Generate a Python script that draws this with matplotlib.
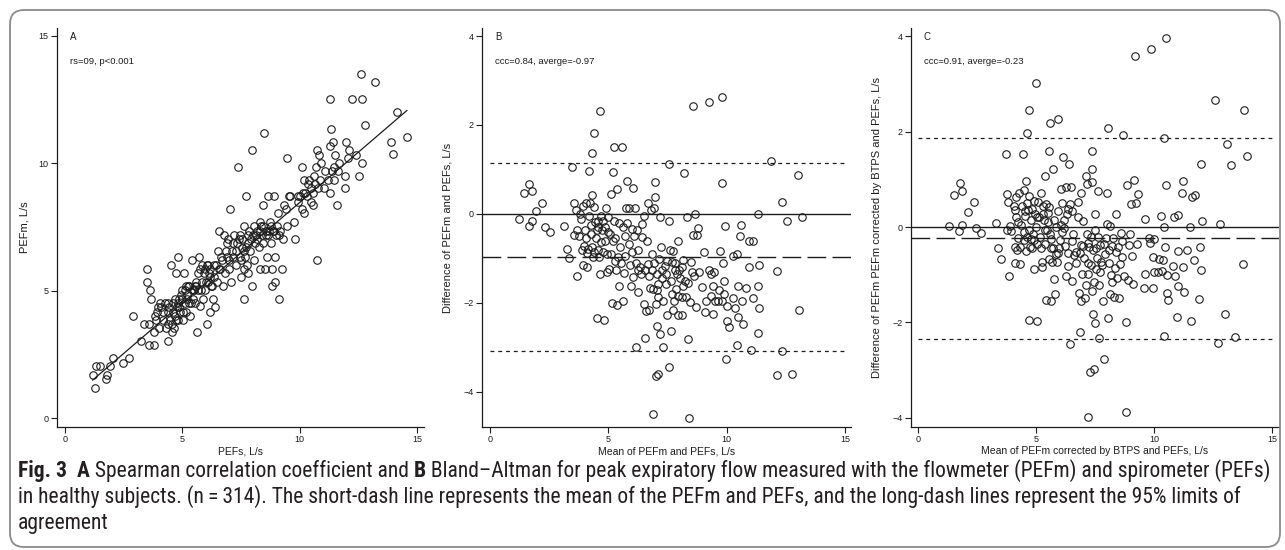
import matplotlib
matplotlib.use("Agg")
import matplotlib.pyplot as plt
from matplotlib import font_manager
from matplotlib.patches import FancyBboxPatch
from matplotlib.transforms import IdentityTransform
import numpy as np

# ---------------- data ----------------
panel_a_points = [
    (1.18,1.70),(1.28,1.18),(1.31,2.03),(1.49,2.03),(1.75,1.53),(1.81,1.70),(1.92,2.03),(2.06,2.35),(2.46,2.18),(2.74,2.35),
    (2.91,4.01),(3.26,3.02),(3.37,3.69),(3.58,3.69),(3.48,5.85),(3.48,5.36),(3.63,5.01),(3.67,4.68),(3.60,2.85),(3.81,2.85),
    (3.80,3.37),(3.84,4.01),(3.88,3.86),(3.94,4.18),(4.02,3.53),(4.05,4.51),(4.17,3.86),(4.19,4.18),(4.29,3.53),(4.37,3.02),
    (4.38,4.51),(4.41,4.18),(4.48,3.86),(4.51,6.02),(4.55,3.36),(4.62,4.51),(4.65,3.53),(4.69,4.01),(4.72,5.69),(4.76,4.35),
    (4.81,6.34),(4.83,3.86),(4.86,4.67),(4.91,4.18),(4.93,4.84),(4.98,5.01),(5.02,4.18),(5.08,5.69),(5.12,4.51),(5.16,4.18),
    (5.22,4.84),(5.26,5.19),(5.33,4.01),(5.40,6.19),(5.36,4.51),(5.47,5.01),(5.55,4.51),(5.64,3.36),(5.69,5.03),(5.73,6.34),
    (5.76,5.85),(5.83,5.36),(5.90,4.68),(5.93,5.69),(5.97,5.03),(6.04,6.02),(6.04,3.70),(6.11,5.36),(6.16,4.18),(6.19,5.85),
    (6.26,5.19),(6.30,4.68),(6.33,6.02),(6.40,4.35),(6.47,5.36),(6.54,6.54),(6.58,7.36),(6.61,5.85),(6.68,6.21),(6.73,5.19),
    (6.78,7.19),(6.83,5.69),(6.90,6.34),(6.94,7.02),(6.98,5.85),(7.04,8.20),(7.07,5.36),(7.15,6.34),(7.22,7.19),(7.29,6.02),
    (7.35,6.87),(7.39,9.87),(7.44,6.34),(7.49,5.53),(7.54,6.67),(7.61,7.52),(7.65,4.68),(7.68,6.34),(7.72,8.70),(7.78,6.87),
    (7.82,5.69),(7.89,6.54),(7.96,5.19),(7.96,10.53),(8.00,7.19),(8.06,6.21),(8.10,6.87),(8.18,7.36),(8.25,6.70),(8.29,7.68),
    (8.32,5.85),(8.39,7.19),(8.46,8.37),(8.50,11.18),(8.53,5.85),(8.57,7.36),(8.60,6.34),(8.67,8.70),(8.72,7.68),(8.77,6.87),
    (8.81,5.85),(8.81,5.19),(8.86,7.36),(8.92,8.70),(8.96,6.34),(8.96,5.36),(9.00,7.19),(9.07,8.04),(9.14,4.68),(9.17,7.36),
    (9.24,5.85),(9.28,7.02),(9.43,8.20),(9.46,7.52),(9.48,10.19),(9.53,8.70),(9.74,7.68),(9.81,7.02),(9.91,8.70),(10.02,8.70),
    (10.09,9.87),(10.09,8.20),(10.14,8.85),(10.17,9.35),(10.19,8.04),(10.31,8.70),(10.42,9.35),(10.48,8.50),(10.56,8.37),(10.59,8.85),
    (10.66,9.18),(10.71,9.87),(10.73,10.53),(10.73,6.19),(10.78,9.02),(10.81,10.33),(10.90,10.03),(11.04,9.02),(11.23,9.35),(11.28,10.69),
    (11.30,8.85),(11.30,12.51),(11.33,11.35),(11.37,9.68),(11.41,10.85),(11.45,9.35),(11.52,10.33),(11.59,8.37),(11.62,9.70),(11.66,10.03),
    (11.92,9.02),(11.94,9.52),(11.97,10.85),(12.04,10.19),(12.09,10.53),(12.23,12.51),(12.41,10.33),(12.55,9.52),(12.61,13.51),(12.65,12.51),
    (12.65,10.03),(12.77,11.51),(13.22,13.18),(13.91,10.85),(13.96,10.36),(14.15,12.02),(14.57,11.02),
    (3.98,4.35),(4.27,4.51),(4.41,3.70),(4.58,3.70),(4.73,3.86),(5.05,3.86),(5.19,4.68),(5.59,5.19),(5.76,4.38),(6.00,5.36),
    (6.22,5.19),(7.46,7.19),(7.86,7.36),(8.18,7.02),(8.46,7.52),(8.67,7.19),(7.61,5.85),(7.75,6.02),
    (5.30,5.19),(5.50,5.03),(5.60,5.36),(5.85,6.02),(6.10,6.02),(6.20,5.52),(6.45,6.02),(6.90,6.87),(7.10,6.54),(7.30,6.54),
    (7.55,7.02),(7.70,6.70),(8.05,7.52),(8.35,7.52),(8.80,7.52),(9.05,7.52),(9.60,8.70),(9.95,8.50),(10.35,9.18),(10.60,9.52),
    (4.10,4.35),(4.45,4.35),(4.60,4.18),(4.70,4.68),(4.80,4.51),(4.88,4.35),(5.00,4.68),(5.10,5.01),(5.15,5.19),(5.28,4.51),
    (5.45,4.68),(5.55,5.19),(5.65,5.69),(5.80,5.03),(5.95,5.85),(6.15,5.69),(6.35,5.52),(6.55,5.85),(6.65,6.34),(6.85,6.54),
    (7.00,6.21),(7.18,6.87),(7.40,7.02),(7.52,6.21),(7.62,6.54),(7.80,7.19),(7.92,7.02),(8.12,7.19),(8.30,7.36),(8.45,6.87),
    (8.55,7.19),(8.70,7.36),(8.90,7.36),(9.10,7.19),(9.35,8.37),(10.25,8.85),(10.50,9.02),(10.85,9.35),(11.10,9.68),(11.45,9.85),
]
fit_slope_a = 0.79
fit_intercept_a = 0.56

panel_b_points = [
    (1.23,-0.11),(1.44,0.48),(1.66,0.67),(1.76,0.51),(1.65,-0.28),(1.76,-0.16),(1.96,0.07),(2.21,0.25),(2.31,-0.30),(2.54,-0.40),
    (3.13,-0.27),(3.24,-0.79),(3.34,-1.00),(3.46,1.06),(3.54,0.25),(3.55,-0.47),(3.62,0.09),(3.66,-1.39),(3.69,-0.37),(3.76,-0.50),
    (3.80,0.00),(3.85,-0.11),(3.87,-0.81),(3.92,-1.15),(3.94,0.17),(3.99,-0.71),(4.01,-0.37),(4.04,0.25),(4.08,-0.88),(4.11,-1.20),
    (4.15,-0.79),(4.18,0.97),(4.20,-0.04),(4.23,0.25),(4.25,-0.24),(4.30,1.38),(4.30,0.43),(4.32,-0.75),(4.37,-0.97),(4.41,1.83),
    (4.41,0.15),(4.44,-0.19),(4.46,-0.55),(4.51,-2.33),(4.51,-0.37),(4.55,-0.82),(4.58,-0.15),(4.62,-0.97),(4.65,2.32),(4.65,-1.35),
    (4.68,-0.64),(4.72,-0.36),(4.76,-0.86),(4.79,-0.15),(4.83,-2.38),(4.86,-0.30),(4.90,0.13),(4.93,-0.90),(4.96,-1.31),(5.00,-0.07),
    (5.03,-1.24),(5.07,-0.45),(5.10,0.45),(5.14,-2.01),(5.18,0.94),(5.21,-0.61),(5.24,1.50),(5.25,-0.15),(5.28,-1.05),(5.32,-1.27),
    (5.35,-2.04),(5.38,0.56),(5.42,-0.97),(5.46,-1.63),(5.49,-0.75),(5.56,1.51),(5.61,-0.30),(5.63,-1.95),(5.66,-1.33),(5.70,-0.94),
    (5.75,0.13),(5.77,-0.21),(5.80,0.75),(5.85,-0.67),(5.89,0.13),(5.94,-1.63),(5.99,-0.34),(6.03,0.58),(6.06,-1.42),(6.08,-0.49),
    (6.13,0.13),(6.15,-3.00),(6.20,-0.37),(6.23,-0.82),(6.23,-1.76),(6.27,-1.27),(6.34,-1.20),(6.41,-0.22),(6.44,-0.52),(6.51,-0.04),
    (6.52,-2.02),(6.56,-2.80),(6.59,-2.19),(6.62,-0.60),(6.66,-1.12),(6.69,0.25),(6.73,-2.17),(6.76,-1.67),(6.79,0.09),(6.83,-0.90),
    (6.87,-1.69),(6.90,-4.49),(6.93,0.13),(6.94,-1.10),(6.97,0.71),(6.97,0.37),(7.00,-2.02),(7.00,-3.65),(7.04,-1.35),(7.07,-2.51),
    (7.08,-1.87),(7.11,-3.60),(7.11,-1.57),(7.14,-1.01),(7.18,-2.70),(7.18,-0.07),(7.21,-0.75),(7.25,-1.27),(7.30,-1.95),(7.32,-3.00),
    (7.39,-1.16),(7.44,-1.57),(7.46,-2.28),(7.49,-1.05),(7.54,-3.43),(7.58,1.12),(7.58,-0.17),(7.61,-0.81),(7.63,-2.64),(7.68,-1.80),
    (7.70,-1.09),(7.72,-2.17),(7.75,-0.84),(7.77,-1.95),(7.82,-1.26),(7.86,-1.69),(7.89,-1.35),(7.93,-2.27),(7.96,-0.61),(8.00,-1.26),
    (8.03,-1.44),(8.10,-1.87),(8.13,-2.28),(8.14,-1.63),(8.17,-1.03),(8.20,0.92),(8.24,-1.50),(8.27,-1.86),(8.34,-0.07),(8.38,-2.81),
    (8.42,-4.58),(8.45,-1.99),(8.49,-1.09),(8.52,-1.31),(8.56,-0.47),(8.59,2.42),(8.66,-0.01),(8.70,-2.10),(8.73,-0.48),(8.80,-0.32),
    (8.83,-1.31),(9.06,-0.85),(9.08,-2.21),(9.13,-1.95),(9.23,2.52),(9.27,-1.25),(9.32,-1.36),(9.41,-2.26),(9.44,-1.63),(9.46,-1.31),
    (9.51,-1.95),(9.62,-1.95),(9.68,-1.71),(9.72,-0.84),(9.79,-1.95),(9.80,0.69),(9.82,2.64),(9.86,-1.11),(9.89,-1.81),(9.90,-1.50),
    (9.94,-0.27),(9.97,-3.26),(10.00,-2.06),(10.03,-2.41),(10.08,-2.55),(10.25,-1.90),(10.28,-0.94),(10.35,-2.11),(10.42,-0.91),(10.45,-2.94),
    (10.46,-1.63),(10.49,-2.32),(10.56,-0.49),(10.59,-0.26),(10.63,-1.95),(10.70,-2.47),(10.82,-1.66),(10.92,-1.20),(10.96,-0.61),(11.01,-3.07),
    (11.10,-1.90),(11.13,-0.60),(11.30,-1.63),(11.32,-2.67),(11.32,-0.01),(11.37,-2.11),(11.38,-1.15),(11.87,1.20),(12.11,-3.63),(12.13,-1.29),
    (12.34,0.26),(12.35,-3.09),(12.55,-0.16),(12.77,-3.60),(13.03,0.88),(13.06,-2.17),(13.17,-0.06),
    (4.05,-0.55),(4.28,-0.45),(4.40,-0.85),(4.55,-0.30),(4.70,-0.05),(4.85,-0.60),(4.97,-0.40),(5.12,-0.90),(5.30,-0.55),(5.45,-0.20),
    (5.55,-1.10),(5.72,-0.50),(5.90,-1.15),(6.00,-0.85),(6.18,-1.10),(6.38,-1.35),(6.55,-1.25),(6.70,-1.40),(6.85,-1.25),(7.05,-1.70),
    (7.28,-1.45),(7.45,-1.35),(7.65,-1.50),(7.80,-1.10),(7.95,-1.85),(8.10,-1.20),(8.35,-1.55),(8.60,-1.40),(8.95,-1.65),(9.35,-1.85),
]
mean_diff_b = -0.97
loa_b = [1.15, -3.09]

panel_c_points = [
    (1.31,0.03),(1.54,0.68),(1.73,-0.08),(1.79,0.92),(1.85,0.04),(1.88,0.75),(2.10,0.31),(2.35,0.52),(2.45,-0.03),(2.68,-0.13),
    (3.31,0.09),(3.40,-0.45),(3.50,-0.66),(3.71,1.54),(3.75,0.69),(3.75,-0.07),(3.82,0.52),(3.87,-1.03),(3.91,0.03),(3.96,-0.08),
    (4.05,0.45),(4.09,0.35),(4.12,-0.41),(4.12,-0.76),(4.16,0.62),(4.19,-0.49),(4.22,0.10),(4.24,-0.24),(4.29,0.71),(4.31,-0.78),
    (4.33,-0.42),(4.40,0.45),(4.44,1.54),(4.47,0.77),(4.50,-0.28),(4.53,0.34),(4.54,0.24),(4.56,0.97),(4.58,-0.50),(4.61,1.97),
    (4.62,-0.21),(4.66,0.35),(4.69,0.66),(4.69,-1.94),(4.72,2.46),(4.72,-0.06),(4.75,-0.42),(4.79,0.14),(4.82,0.38),(4.85,-0.45),
    (4.88,-0.14),(4.91,-0.87),(4.93,-0.28),(4.96,0.28),(5.00,3.02),(5.00,0.00),(5.03,-0.35),(5.06,-1.96),(5.10,0.52),(5.14,0.21),
    (5.19,-0.45),(5.22,0.71),(5.24,-0.73),(5.27,-0.84),(5.30,0.28),(5.33,0.14),(5.36,-0.07),(5.40,1.07),(5.41,-1.52),(5.44,0.49),
    (5.47,-0.07),(5.50,0.10),(5.53,1.59),(5.53,-0.67),(5.55,0.42),(5.60,2.18),(5.60,-0.14),(5.63,-1.56),(5.63,-0.43),(5.67,-0.73),
    (5.70,1.22),(5.74,-0.45),(5.77,-1.09),(5.81,-1.40),(5.84,-0.56),(5.86,0.00),(5.89,-0.73),(5.94,2.26),(5.95,0.34),(5.98,-0.45),
    (6.02,-0.28),(6.06,0.80),(6.09,0.50),(6.12,-0.10),(6.15,1.47),(6.17,-0.03),(6.20,0.14),(6.25,0.84),(6.27,-1.03),(6.30,0.28),
    (6.34,-0.82),(6.37,0.38),(6.41,1.33),(6.44,-2.45),(6.46,0.49),(6.48,0.84),(6.51,-1.13),(6.54,0.34),(6.58,-0.14),(6.63,-0.59),
    (6.68,-0.52),(6.77,0.20),(6.80,0.52),(6.82,-1.38),(6.87,-2.20),(6.89,-0.38),(6.91,0.71),(6.91,-1.55),(6.96,-0.98),(6.99,0.12),
    (7.02,-0.65),(7.08,-1.48),(7.11,1.06),(7.11,-1.22),(7.15,-0.14),(7.16,0.90),(7.19,-3.97),(7.19,-0.98),(7.22,-0.34),(7.26,-0.42),
    (7.30,-3.04),(7.33,-0.80),(7.36,0.94),(7.36,-1.34),(7.39,1.59),(7.39,1.21),(7.40,-0.49),(7.43,-1.83),(7.44,-2.97),(7.46,-1.15),
    (7.49,0.27),(7.50,-0.07),(7.51,-2.01),(7.53,-0.87),(7.57,-0.64),(7.61,0.76),(7.64,-0.21),(7.67,-1.22),(7.68,-2.32),(7.71,-0.38),
    (7.76,-0.73),(7.81,-0.80),(7.84,-1.54),(7.88,-2.76),(7.92,-0.56),(7.95,-0.22),(7.99,0.06),(8.02,0.71),(8.03,-1.90),(8.06,2.08),
    (8.09,-0.49),(8.12,-1.40),(8.15,0.02),(8.18,-1.00),(8.20,-1.15),(8.23,-0.40),(8.27,-0.22),(8.32,-1.47),(8.37,0.28),(8.40,-0.52),
    (8.43,-1.06),(8.49,-0.42),(8.53,-1.48),(8.56,-0.77),(8.60,-0.12),(8.66,-0.63),(8.70,1.92),(8.73,-1.03),(8.80,-3.88),(8.81,-1.99),
    (8.84,0.89),(8.91,-1.12),(8.94,-0.38),(8.99,-0.14),(9.02,0.49),(9.13,-1.20),(9.16,0.99),(9.19,3.58),(9.25,0.50),(9.30,-0.36),
    (9.33,0.69),(9.57,-1.27),(9.60,0.16),(9.62,-0.99),(9.78,-0.24),(9.82,-0.33),(9.86,3.74),(9.95,-1.27),(9.96,-0.62),(10.01,-0.26),
    (10.01,-0.94),(10.15,-0.94),(10.21,-0.66),(10.28,0.24),(10.32,-0.92),(10.39,-0.70),(10.42,1.87),(10.43,-0.01),(10.43,-2.29),(10.45,-0.42),
    (10.49,3.97),(10.53,0.89),(10.55,-1.38),(10.55,-1.01),(10.60,-1.52),(10.81,-0.82),(10.85,0.21),(10.91,-1.03),(10.98,-1.89),(11.03,-0.50),
    (11.03,0.26),(11.03,-1.24),(11.17,0.72),(11.21,-0.83),(11.24,0.97),(11.28,-1.36),(11.41,-0.49),(11.52,0.01),(11.59,-1.97),(11.60,0.62),
    (11.69,-0.70),(11.76,0.67),(11.90,-1.50),(11.93,-0.41),(11.98,-0.91),(11.98,1.31),(12.03,0.13),(12.60,2.66),(12.73,-2.43),(12.80,0.06),
    (13.00,-1.83),(13.08,1.73),(13.28,1.30),(13.42,-2.31),(13.76,-0.77),(13.83,2.45),(13.94,1.48),
    (4.15,0.20),(4.35,0.05),(4.48,-0.10),(4.60,0.50),(4.78,-0.25),(4.90,0.55),(5.05,0.20),(5.16,-0.20),(5.28,0.45),(5.38,-0.35),
    (5.52,0.30),(5.65,-0.25),(5.78,0.15),(5.92,-0.55),(6.05,0.05),(6.22,-0.40),(6.35,-0.55),(6.52,-0.30),(6.70,-0.75),(6.85,-0.55),
    (7.00,-0.40),(7.20,-0.75),(7.35,-0.20),(7.55,-0.45),(7.72,-0.95),(7.90,-0.35),(8.10,-0.75),(8.35,-0.85),(8.65,-0.30),(9.05,-0.60),
]
mean_diff_c = -0.23
loa_c = [1.87, -2.34]

x_ticks = [0, 5, 10, 15]
y_ticks_a = [0, 5, 10, 15]
y_ticks_bc = [-4, -2, 0, 2, 4]

panel_letters = ["A", "B", "C"]
panel_notes = ["rs=09, p<0.001", "ccc=0.84, averge=-0.97", "ccc=0.91, averge=-0.23"]
x_titles = ["PEFs, L/s", "Mean of PEFm and PEFs, L/s", "Mean of PEFm corrected by BTPS and PEFs, L/s"]
y_titles = ["PEFm, L/s", "Difference of PEFm and PEFs, L/s",
            "Difference of PEFm PEFm corrected by BTPS and PEFs, L/s"]

caption_lines = [
    [("Fig. 3", True), ("  ", False), ("A", True), (" Spearman correlation coefficient and ", False), ("B", True),
     (" Bland\u2013Altman for peak expiratory flow measured with the flowmeter (PEFm) and spirometer (PEFs)", False)],
    [("in healthy subjects. (n\u2009=\u2009314). The short-dash line represents the mean of the PEFm and PEFs, and the long-dash lines represent the 95% limits of", False)],
    [("agreement", False)],
]

# ---------------- styling ----------------
W, H = 1285, 550
INK = "#1c1c1c"
plt.rcParams["font.family"] = ["Liberation Sans", "DejaVu Sans"]
plt.rcParams["lines.scale_dashes"] = False

fig = plt.figure(figsize=(W / 100, H / 100), dpi=100)
fig.patch.set_facecolor("white")


def rect(l, r, t, b):
    return [l / W, 1 - b / H, (r - l) / W, (b - t) / H]


axes_px = [(57, 424, 28, 427), (482, 851, 28, 427), (911, 1279, 28, 427)]
xlims = [(-0.34, 15.30), (-0.34, 15.25), (-0.30, 15.30)]
ylims = [(-0.35, 15.31), (-4.79, 4.18), (-4.19, 4.17)]
ylabel_x = [-0.074, -0.079, -0.079]

axes = []
for i in range(3):
    ax = fig.add_axes(rect(*axes_px[i]))
    ax.set_xlim(*xlims[i])
    ax.set_ylim(*ylims[i])
    for s in ["top", "right"]:
        ax.spines[s].set_visible(False)
    for s in ["left", "bottom"]:
        ax.spines[s].set_linewidth(0.9)
        ax.spines[s].set_color(INK)
    ax.set_xticks(x_ticks)
    ax.set_yticks(y_ticks_a if i == 0 else y_ticks_bc)
    ax.tick_params(direction="out", length=4, width=0.8, colors=INK, labelsize=6.5, pad=2)
    ax.set_xlabel(x_titles[i], fontsize=7.5, color=INK, labelpad=1.5)
    ax.set_ylabel(y_titles[i], fontsize=8, color=INK)
    ax.yaxis.set_label_coords(ylabel_x[i], 0.5)
    ax.text(0.035, 0.977, panel_letters[i], transform=ax.transAxes, fontsize=7,
            ha="left", va="center", color=INK)
    ax.text(0.035, 0.915, panel_notes[i], transform=ax.transAxes, fontsize=6.8,
            ha="left", va="center", color=INK)
    axes.append(ax)

mk = dict(ls="none", marker="o", mfc="none", mec=INK, ms=5.4, mew=0.8)

# Panel A
ax = axes[0]
a = np.array(panel_a_points)
ax.plot(a[:, 0], a[:, 1], **mk)
fx = np.array([a[:, 0].min(), a[:, 0].max()])
ax.plot(fx, fit_intercept_a + fit_slope_a * fx, color=INK, lw=0.9)

# Panels B and C
for ax, pts, m, loa in [(axes[1], panel_b_points, mean_diff_b, loa_b),
                        (axes[2], panel_c_points, mean_diff_c, loa_c)]:
    p = np.array(pts)
    ax.axhline(0, color=INK, lw=1.0, zorder=1)
    ax.axhline(m, color=INK, lw=1.0, dashes=(13.5, 4.5), zorder=1)
    for v in loa:
        ax.plot([0, 15], [v, v], color=INK, lw=0.9, dashes=(2.8, 2.8), zorder=1)
    ax.plot(p[:, 0], p[:, 1], zorder=3, **mk)

# ---------------- caption ----------------
names = {f.name for f in font_manager.fontManager.ttflist}
cap_family = None
for cand in ["Liberation Sans Narrow", "Roboto Condensed", "Open Sans Condensed", "Noto Sans", "Open Sans", "Liberation Sans"]:
    if cand in names:
        cap_family = cand
        break
cap_family = [cap_family or "DejaVu Sans", "DejaVu Sans"]
CAP = "#231f20"
renderer = fig.canvas.get_renderer()


def seg_width(txt, bold, size):
    t = fig.text(0, 0, "|" + txt + "|", fontsize=size, family=cap_family,
                 fontweight="bold" if bold else "normal")
    w = t.get_window_extent(renderer).width
    t.remove()
    t2 = fig.text(0, 0, "||", fontsize=size, family=cap_family,
                  fontweight="bold" if bold else "normal")
    w2 = t2.get_window_extent(renderer).width
    t2.remove()
    return w - w2


def line_width(segs, size):
    return sum(seg_width(s, b, size) for s, b in segs)


base = 10.0
target = 1250.0
cap_size = base * target / line_width(caption_lines[0], base)
cap_y = [471, 497, 523]
for segs, yy in zip(caption_lines, cap_y):
    x = 18.0
    for s, b in segs:
        fig.text(x / W, 1 - yy / H, s, fontsize=cap_size, family=cap_family,
                 fontweight="bold" if b else "normal", color=CAP, ha="left", va="center")
        x += seg_width(s, b, cap_size)

# ---------------- rounded frame ----------------
frame = FancyBboxPatch((10, 3), 1270, 537, boxstyle="round,pad=0,rounding_size=14",
                       transform=IdentityTransform(), fill=False, ec="#8a8a8a", lw=1.3)
fig.patches.append(frame)

fig.savefig("out.png", dpi=100, facecolor="white")
